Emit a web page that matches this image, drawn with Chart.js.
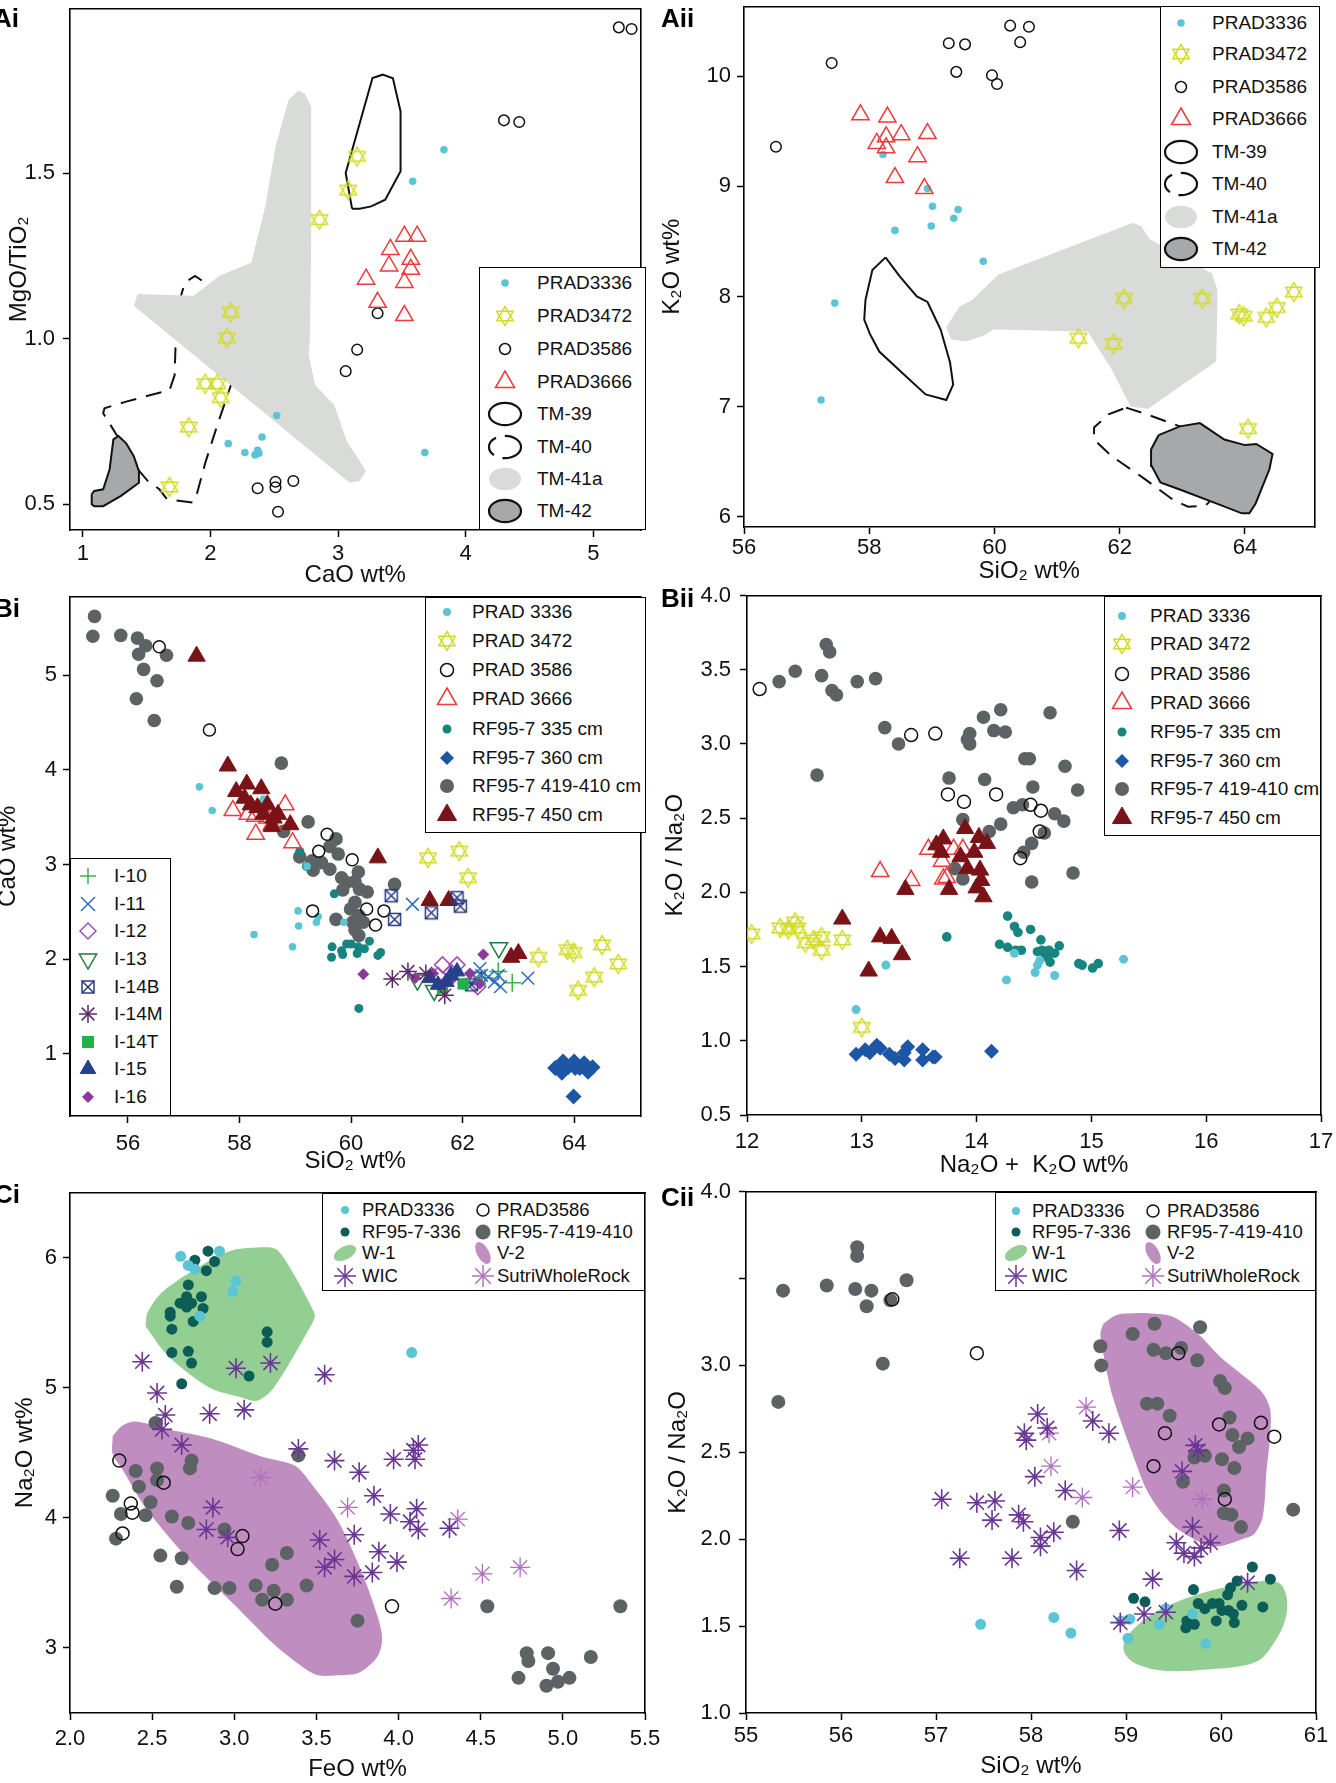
<!DOCTYPE html>
<html><head><meta charset="utf-8">
<script src="https://cdn.jsdelivr.net/npm/chart.js@4/dist/chart.umd.min.js"></script>
<style>
html,body{margin:0;padding:0;background:#fff;}
body{width:1336px;height:1783px;overflow:hidden;position:relative;font-family:'Liberation Sans',Arial,Helvetica,sans-serif;}
canvas{position:absolute;}
.plabel{position:absolute;font-weight:bold;font-size:26px;line-height:26px;color:#000;}
.lgbox{position:absolute;border:1.6px solid #000;box-sizing:border-box;background:#fff;}
.lgt{position:absolute;white-space:nowrap;color:#111;}
.lgs{position:absolute;width:44px;height:40px;}
</style></head><body>
<script>
// ===================== DATA =====================
// ---- Panel Ai : CaO wt% vs MgO/TiO2 ----
const aiXTicks=[1,2,3,4,5];
const aiXLabels=['1','2','3','4','5'];
const aiYTicks=[0.5,1.0,1.5];
const aiYLabels=['0.5','1.0','1.5'];
const ai_PRAD3336=[[3.83,1.571],[3.585,1.476],[2.52,0.768],[2.405,0.703],[2.14,0.683],[2.27,0.656],[2.37,0.663],[2.35,0.649],[2.38,0.654],[3.68,0.656]];
const ai_PRAD3472=[[3.15,1.551],[3.08,1.449],[2.855,1.36],[2.16,1.08],[2.13,1.003],[1.96,0.864],[2.055,0.864],[2.08,0.822],[1.83,0.733],[1.68,0.552]];
const ai_PRAD3586=[[5.20,1.941],[5.30,1.936],[4.30,1.66],[4.42,1.655],[3.31,1.077],[3.15,0.967],[3.06,0.902],[2.37,0.548],[2.51,0.568],[2.51,0.551],[2.65,0.57],[2.53,0.477]];
const ai_PRAD3666=[[3.52,1.31],[3.62,1.31],[3.41,1.27],[3.57,1.24],[3.40,1.22],[3.57,1.21],[3.22,1.18],[3.52,1.17],[3.31,1.11],[3.52,1.07]];
const ai_TM39=[[3.11,1.393],[3.06,1.501],[3.27,1.788],[3.35,1.798],[3.43,1.787],[3.49,1.687],[3.49,1.506],[3.37,1.42],[3.26,1.40],[3.17,1.393],[3.11,1.393]];
const ai_TM40=[[1.77,1.13],[1.73,1.02],[1.72,0.89],[1.68,0.845],[1.34,0.81],[1.17,0.79],[1.16,0.775],[1.20,0.75],[1.28,0.70],[1.40,0.62],[1.51,0.57],[1.60,0.545],[1.66,0.515],[1.86,0.505],[1.89,0.525],[1.96,0.625],[2.055,0.74],[2.17,0.87],[2.23,0.95],[2.23,1.0],[2.18,1.06],[2.12,1.12],[2.05,1.145],[1.88,1.19],[1.80,1.17],[1.77,1.13]];
const ai_TM41a=[[2.61,1.72],[2.69,1.75],[2.74,1.74],[2.79,1.70],[2.79,1.30],[2.78,1.00],[2.77,0.95],[2.82,0.86],[2.97,0.80],[3.07,0.69],[3.22,0.60],[3.17,0.57],[3.09,0.565],[1.40,1.10],[1.43,1.135],[1.87,1.13],[2.07,1.19],[2.32,1.23],[2.43,1.40],[2.51,1.58],[2.61,1.72]];
const ai_TM42=[[1.07,0.53],[1.09,0.54],[1.16,0.545],[1.21,0.605],[1.24,0.696],[1.28,0.706],[1.34,0.684],[1.40,0.645],[1.44,0.60],[1.44,0.565],[1.30,0.525],[1.16,0.494],[1.09,0.494],[1.07,0.50],[1.07,0.53]];

// ---- Panel Aii : SiO2 wt% vs K2O wt% ----
const aiiXTicks=[56,58,60,62,64];
const aiiXLabels=['56','58','60','62','64'];
const aiiYTicks=[6,7,8,9,10];
const aiiYLabels=['6','7','8','9','10'];
const aii_PRAD3336=[[58.22,9.29],[58.93,8.98],[59.01,8.82],[59.42,8.79],[59.35,8.71],[58.99,8.64],[58.41,8.60],[59.82,8.32],[57.45,7.94],[57.23,7.06]];
const aii_PRAD3472=[[62.07,7.98],[63.32,7.98],[61.34,7.62],[61.90,7.57],[63.91,7.84],[63.98,7.82],[64.34,7.81],[64.51,7.90],[64.78,8.04],[64.05,6.80]];
const aii_PRAD3586=[[57.40,10.12],[56.51,9.36],[59.27,10.30],[59.53,10.29],[59.39,10.04],[60.25,10.46],[60.55,10.45],[60.41,10.31],[59.96,10.01],[60.04,9.93]];
const aii_PRAD3666=[[57.86,9.65],[58.29,9.63],[58.27,9.45],[58.51,9.47],[58.12,9.39],[58.93,9.48],[58.27,9.35],[58.77,9.27],[58.41,9.08],[58.88,8.98]];
const aii_TM39=[[58.26,8.355],[58.05,8.24],[57.94,7.97],[57.92,7.79],[58.01,7.66],[58.16,7.50],[58.52,7.31],[58.90,7.11],[59.23,7.06],[59.34,7.20],[59.29,7.40],[59.14,7.70],[58.93,7.95],[58.76,8.0],[58.49,8.18],[58.26,8.355]];
const aii_TM40=[[62.10,6.99],[62.38,6.94],[62.96,6.82],[63.47,6.73],[64.02,6.61],[63.95,6.43],[63.61,6.24],[63.37,6.10],[63.09,6.09],[62.86,6.15],[62.38,6.35],[61.87,6.55],[61.59,6.70],[61.59,6.81],[61.82,6.93],[62.10,6.99]];
const aii_TM41a=[[62.21,8.67],[62.34,8.64],[62.48,8.52],[63.47,8.21],[63.56,8.06],[63.56,7.98],[63.54,7.41],[62.45,6.98],[62.17,7.0],[61.87,7.34],[61.49,7.68],[59.98,7.70],[59.85,7.65],[59.55,7.59],[59.31,7.61],[59.23,7.72],[59.44,7.91],[59.65,7.97],[60.06,8.20],[62.21,8.67]];
const aii_TM42=[[62.62,6.74],[62.96,6.82],[63.28,6.85],[63.67,6.70],[64.0,6.65],[64.18,6.66],[64.44,6.57],[64.39,6.43],[64.17,6.12],[64.07,6.03],[63.95,6.03],[63.54,6.12],[62.99,6.24],[62.65,6.31],[62.51,6.46],[62.50,6.61],[62.62,6.74]];

// ---- Panel Bi : SiO2 wt% vs CaO wt% ----
const biXTicks=[56,58,60,62,64];
const biXLabels=['56','58','60','62','64'];
const biYTicks=[1,2,3,4,5];
const biYLabels=['1','2','3','4','5'];
const bi_PRAD3336=[[57.28,3.82],[57.51,3.57],[58.43,3.69],[59.05,2.51],[59.06,2.35],[59.38,2.39],[59.41,2.45],[58.26,2.26],[58.95,2.13],[59.87,2.39],[59.21,2.98]];
const bi_PRAD3472=[[61.38,3.07],[61.94,3.14],[62.10,2.86],[63.36,2.02],[63.88,2.10],[63.99,2.07],[64.50,2.15],[64.79,1.95],[64.36,1.81],[64.07,1.67]];
const bi_PRAD3586=[[56.56,5.30],[57.46,4.42],[59.57,3.32],[59.42,3.14],[60.02,3.05],[59.31,2.51],[60.28,2.53],[60.59,2.51],[60.44,2.36]];
const bi_PRAD3666=[[57.88,3.57],[58.15,3.53],[58.28,3.51],[58.82,3.63],[58.29,3.32],[58.95,3.23],[58.58,3.42],[58.50,3.49]];
const bi_RF335=[[59.70,2.69],[59.66,2.13],[59.83,2.09],[59.65,2.02],[59.85,2.05],[60.0,2.16],[60.13,2.13],[60.11,2.06],[60.24,2.11],[60.33,2.19],[60.48,2.04],[60.53,2.07],[60.14,1.48],[59.92,2.16],[59.08,3.14],[59.20,2.98]];
const bi_RF360=[[63.66,0.85],[63.80,0.92],[63.78,0.80],[64.0,0.92],[64.02,0.85],[64.18,0.90],[64.25,0.81],[64.10,0.85],[63.99,0.55],[64.33,0.86],[63.89,0.86]];
const bi_RF419=[[55.40,5.62],[55.37,5.41],[55.87,5.42],[56.17,5.39],[56.32,5.31],[56.19,5.22],[56.69,5.21],[56.28,5.06],[56.52,4.94],[56.15,4.75],[56.47,4.52],[58.75,4.07],[59.23,3.45],[58.43,3.63],[58.79,3.35],[59.73,3.27],[59.62,3.19],[59.77,3.11],[59.08,3.08],[59.30,3.04],[59.47,3.02],[59.32,2.94],[59.62,2.95],[60.13,2.92],[59.83,2.86],[60.07,2.82],[60.78,2.79],[59.92,2.81],[60.15,2.74],[60.29,2.71],[59.85,2.73],[60.07,2.60],[59.99,2.53],[60.14,2.46],[60.03,2.39],[60.22,2.39],[60.07,2.31],[60.14,2.25],[59.73,2.42]];
const bi_RF450=[[57.23,5.20],[57.79,4.04],[57.94,3.77],[58.13,3.85],[58.39,3.80],[58.09,3.70],[58.20,3.63],[58.32,3.60],[58.50,3.63],[58.43,3.53],[58.61,3.49],[58.69,3.53],[58.58,3.40],[58.91,3.42],[60.48,3.07],[61.41,2.62],[61.75,2.62],[62.87,2.02],[63.0,2.06]];
const bi_I10=[[62.89,1.75],[62.64,1.87],[62.40,1.80]];
const bi_I11=[[61.10,2.58],[63.17,1.80],[62.31,1.90],[62.57,1.76],[62.64,1.83],[62.68,1.71],[62.46,1.81],[62.34,1.83]];
const bi_I12=[[61.64,1.94],[61.90,1.94],[61.56,1.83],[62.27,1.71],[61.80,1.86]];
const bi_I13=[[62.65,2.12],[61.19,1.78],[61.49,1.67]];
const bi_I14B=[[60.72,2.67],[60.78,2.42],[61.44,2.49],[61.90,2.65],[61.96,2.56],[62.16,1.73],[62.24,1.80]];
const bi_I14M=[[61.02,1.87],[60.74,1.79],[61.68,1.62],[61.34,1.85]];
const bi_I14T=[[62.01,1.74],[61.64,1.69]];
const bi_I15=[[61.41,1.80],[61.71,1.76],[61.90,1.87],[61.56,1.73],[61.79,1.83]];
const bi_I16=[[60.22,1.84],[61.15,1.80],[61.47,1.85],[61.83,1.80],[62.13,1.85],[62.37,2.05],[61.60,1.73],[62.01,1.74],[62.31,1.74]];

// ---- Panel Bii : Na2O+K2O wt% vs K2O/Na2O ----
const biiXTicks=[12,13,14,15,16,17];
const biiXLabels=['12','13','14','15','16','17'];
const biiYTicks=[0.5,1.0,1.5,2.0,2.5,3.0,3.5,4.0];
const biiYLabels=['0.5','1.0','1.5','2.0','2.5','3.0','3.5','4.0'];
const bii_PRAD3336=[[13.21,1.51],[12.95,1.21],[14.26,1.41],[14.33,1.59],[14.51,1.46],[14.53,1.51],[14.68,1.44],[15.28,1.55],[14.55,1.54]];
const bii_PRAD3472=[[12.04,1.72],[12.29,1.76],[12.36,1.75],[12.42,1.80],[12.44,1.76],[12.51,1.66],[12.58,1.68],[12.65,1.70],[12.65,1.61],[12.83,1.68],[13.0,1.09]];
const bii_PRAD3586=[[12.11,3.37],[13.43,3.06],[13.64,3.07],[13.75,2.66],[13.89,2.61],[14.17,2.66],[14.47,2.59],[14.56,2.55],[14.55,2.41],[14.38,2.23]];
const bii_PRAD3666=[[13.16,2.14],[13.58,2.29],[13.70,2.21],[13.80,2.29],[13.43,2.08],[13.71,2.09],[13.88,2.29],[13.74,2.10]];
const bii_RF335=[[13.74,1.70],[14.27,1.84],[14.33,1.77],[14.36,1.73],[14.47,1.75],[14.20,1.65],[14.27,1.63],[14.34,1.61],[14.39,1.61],[14.56,1.68],[14.53,1.60],[14.59,1.59],[14.62,1.56],[14.64,1.53],[14.68,1.59],[14.72,1.64],[14.89,1.52],[14.92,1.51],[15.01,1.49],[15.06,1.52],[14.57,1.61],[14.63,1.61]];
const bii_RF360=[[12.95,0.91],[13.03,0.94],[13.07,0.92],[13.13,0.97],[13.16,0.95],[13.24,0.91],[13.29,0.88],[13.37,0.87],[13.40,0.96],[13.37,0.92],[13.53,0.94],[13.53,0.87],[13.62,0.89],[13.64,0.89],[14.13,0.93]];
const bii_RF419=[[12.69,3.67],[12.72,3.62],[12.28,3.42],[12.42,3.49],[12.65,3.46],[12.74,3.36],[12.78,3.33],[12.96,3.42],[13.12,3.44],[13.20,3.11],[13.32,3.00],[12.61,2.79],[14.06,3.18],[14.21,3.23],[14.15,3.09],[14.25,3.08],[13.94,3.07],[13.94,3.00],[13.92,3.03],[14.64,3.21],[14.42,2.90],[14.46,2.90],[14.77,2.85],[13.76,2.77],[14.07,2.76],[14.49,2.71],[14.88,2.69],[14.32,2.57],[14.40,2.59],[13.88,2.49],[14.11,2.41],[14.21,2.46],[14.68,2.53],[14.76,2.48],[14.59,2.40],[14.48,2.33],[14.41,2.27],[13.81,2.16],[14.84,2.13],[14.48,2.07],[13.88,2.09]];
const bii_RF450=[[13.90,2.43],[13.71,2.36],[13.65,2.32],[14.02,2.37],[14.09,2.33],[13.69,2.27],[13.86,2.24],[13.98,2.27],[13.92,2.16],[14.03,2.15],[14.04,2.08],[13.38,2.02],[13.76,2.02],[14.0,2.03],[14.06,1.97],[12.83,1.82],[13.16,1.70],[13.26,1.69],[13.35,1.58],[13.06,1.47]];

// ---- Panel Ci : FeO wt% vs Na2O wt% ----
const ciXTicks=[2.0,2.5,3.0,3.5,4.0,4.5,5.0,5.5];
const ciXLabels=['2.0','2.5','3.0','3.5','4.0','4.5','5.0','5.5'];
const ciYTicks=[3,4,5,6];
const ciYLabels=['3','4','5','6'];
const ci_PRAD3336=[[2.674,6.01],[2.72,5.94],[2.76,5.91],[2.91,6.05],[3.01,5.82],[2.99,5.74],[2.79,5.55],[4.08,5.27]];
const ci_PRAD3586=[[2.30,4.44],[2.57,4.27],[2.37,4.11],[2.38,4.04],[2.32,3.88],[3.05,3.86],[3.02,3.76],[3.25,3.34],[3.96,3.32]];
const ci_RF336=[[2.84,6.05],[2.76,5.98],[2.88,5.97],[2.83,5.90],[2.72,5.79],[2.71,5.70],[2.67,5.65],[2.80,5.70],[2.81,5.61],[2.71,5.62],[2.74,5.65],[2.61,5.58],[2.61,5.55],[2.62,5.45],[2.75,5.51],[3.20,5.43],[3.20,5.35],[2.62,5.27],[2.72,5.28],[2.74,5.19],[3.09,5.09],[2.68,5.03]];
const ci_RF419=[[2.52,4.73],[2.74,4.44],[2.73,4.38],[2.40,4.36],[2.53,4.38],[3.39,4.48],[2.26,4.17],[2.42,4.24],[2.53,4.29],[2.49,4.12],[2.46,4.02],[2.31,4.03],[2.62,4.01],[2.72,3.96],[2.28,3.84],[2.55,3.71],[2.68,3.69],[2.65,3.47],[2.88,3.46],[2.97,3.46],[2.94,3.91],[3.32,3.73],[3.23,3.64],[3.13,3.48],[3.24,3.44],[3.17,3.37],[3.32,3.37],[3.44,3.48],[3.75,3.21],[4.54,3.32],[5.35,3.32],[4.78,2.96],[4.79,2.90],[4.91,2.96],[4.94,2.84],[4.73,2.77],[4.90,2.71],[4.97,2.74],[5.04,2.77],[5.17,2.93]];
const ci_WIC=[[2.44,5.20],[2.53,4.96],[2.58,4.79],[2.56,4.68],[2.85,4.80],[3.06,4.83],[3.01,5.15],[3.22,5.19],[3.55,5.10],[2.68,4.56],[3.39,4.53],[3.61,4.44],[3.76,4.35],[3.97,4.45],[4.10,4.45],[4.12,4.56],[4.09,4.52],[3.85,4.17],[2.87,4.08],[3.95,4.03],[4.11,4.07],[4.07,3.97],[4.12,3.91],[4.31,3.92],[2.83,3.91],[2.96,3.85],[3.73,3.87],[3.52,3.83],[3.88,3.74],[3.99,3.66],[3.61,3.68],[3.55,3.62],[3.73,3.55],[3.84,3.58]];
const ci_Sutri=[[3.16,4.31],[3.69,4.08],[4.36,3.99],[4.51,3.57],[4.74,3.62],[4.32,3.38]];
const ci_W1=[[2.46,5.47],[2.47,5.57],[2.55,5.72],[2.71,5.87],[2.97,6.05],[3.19,6.08],[3.26,6.06],[3.35,5.90],[3.47,5.62],[3.49,5.55],[3.45,5.44],[3.24,5.0],[3.14,4.90],[3.03,4.93],[2.85,5.0],[2.60,5.24],[2.46,5.47]];
const ci_V2=[[2.26,4.63],[2.32,4.71],[2.40,4.74],[2.60,4.68],[2.86,4.61],[3.17,4.47],[3.37,4.40],[3.47,4.26],[3.63,3.98],[3.78,3.57],[3.88,3.21],[3.90,3.06],[3.87,2.93],[3.76,2.81],[3.63,2.79],[3.51,2.79],[3.42,2.85],[3.24,3.03],[3.01,3.32],[2.73,3.67],[2.47,4.06],[2.32,4.37],[2.26,4.49],[2.26,4.63]];

// ---- Panel Cii : SiO2 wt% vs K2O/Na2O ----
const ciiXTicks=[55,56,57,58,59,60,61];
const ciiXLabels=['55','56','57','58','59','60','61'];
const ciiYTicks=[1.0,1.5,2.0,2.5,3.0,3.5,4.0];
const ciiYLabels=['1.0','1.5','2.0','2.5','3.0','','4.0'];
const cii_PRAD3336=[[57.47,1.51],[58.24,1.55],[58.42,1.46],[59.02,1.43],[59.04,1.54],[59.35,1.51],[59.42,1.60],[59.70,1.57],[59.84,1.40],[58.95,1.53]];
const cii_PRAD3586=[[56.54,3.38],[57.43,3.07],[59.55,3.07],[59.41,2.61],[59.98,2.66],[60.42,2.67],[60.56,2.59],[59.29,2.42],[60.04,2.23]];
const cii_RF336=[[59.08,1.66],[59.20,1.64],[59.64,1.53],[59.63,1.49],[59.72,1.51],[59.71,1.71],[59.76,1.63],[59.83,1.60],[59.98,1.63],[59.95,1.53],[60.07,1.68],[60.10,1.72],[60.17,1.76],[60.08,1.59],[60.14,1.52],[60.22,1.62],[60.33,1.84],[60.44,1.61],[60.52,1.77],[60.01,1.59],[60.13,1.57],[59.91,1.63]];
const cii_RF419=[[56.17,3.68],[56.17,3.63],[55.39,3.43],[55.85,3.46],[56.15,3.44],[56.32,3.43],[56.27,3.34],[56.52,3.375],[56.69,3.49],[56.44,3.01],[55.34,2.79],[58.73,3.11],[58.74,3.0],[59.07,3.18],[59.30,3.24],[59.78,3.22],[59.29,3.09],[59.42,3.07],[59.58,3.10],[59.75,3.03],[59.99,2.91],[60.04,2.87],[59.22,2.78],[59.33,2.78],[59.46,2.71],[60.09,2.70],[60.12,2.60],[60.28,2.58],[60.19,2.53],[60.01,2.46],[60.14,2.41],[59.83,2.48],[59.72,2.47],[59.60,2.33],[60.03,2.28],[60.03,2.15],[60.11,2.14],[60.21,2.07],[60.76,2.17],[58.44,2.10]];
const cii_WIC=[[58.07,2.72],[57.93,2.61],[57.95,2.57],[58.17,2.64],[58.65,2.68],[58.82,2.61],[59.73,2.54],[59.76,2.51],[59.59,2.39],[58.04,2.36],[58.36,2.28],[57.06,2.23],[57.43,2.21],[57.62,2.22],[57.59,2.11],[57.87,2.14],[57.92,2.10],[58.10,2.01],[58.24,2.04],[58.10,1.96],[57.25,1.89],[57.80,1.89],[58.48,1.82],[58.93,2.05],[59.53,1.98],[59.61,1.92],[59.72,1.90],[59.79,1.95],[59.89,1.98],[59.70,2.07],[59.28,1.77],[60.28,1.75],[59.19,1.57],[59.42,1.58],[58.94,1.52]];
const cii_Sutri=[[58.58,2.76],[58.21,2.42],[58.19,2.61],[58.54,2.24],[59.07,2.30],[59.80,2.23]];
const cii_V2=[[58.76,3.24],[58.90,3.29],[59.08,3.30],[59.24,3.30],[59.49,3.28],[59.76,3.18],[59.99,3.05],[60.26,2.93],[60.44,2.84],[60.52,2.74],[60.51,2.55],[60.48,2.40],[60.44,2.13],[60.35,2.03],[60.22,2.0],[59.99,1.96],[59.85,1.965],[59.54,2.06],[59.35,2.17],[59.22,2.28],[59.13,2.40],[58.86,2.82],[58.76,3.07],[58.73,3.18],[58.76,3.24]];
const cii_W1=[[58.97,1.38],[59.01,1.44],[59.22,1.55],[59.54,1.64],[59.94,1.71],[60.17,1.735],[60.44,1.76],[60.62,1.745],[60.69,1.67],[60.69,1.57],[60.62,1.46],[60.44,1.32],[60.26,1.275],[59.85,1.25],[59.49,1.24],[59.26,1.255],[59.08,1.29],[58.99,1.34],[58.97,1.38]];

// ===================== STYLE / RENDER =====================
const FONT="'Liberation Sans', Arial, Helvetica, sans-serif";
const COL={cyan:'#5bc5d5',yel:'#d3db2a',red:'#ee3a3a',blk:'#111111',teal:'#17847f',tealD:'#0c5c58',blue:'#1e56a6',gray:'#5d6264',dred:'#7a1317',
  i10:'#3daf49',i11:'#2d6cc0',i12:'#a24fb3',i13:'#1f7a3b',i14b:'#2b3a7e',i14m:'#5b2a6b',i14t:'#22b04b',i15:'#26408e',i16:'#8b3a9b',
  wic:'#6a3694',sutri:'#b070be',w1:'#93ce92',v2:'#c08dc1',tm41:'#d9dbd9',tm42:'#a6a8aa'};

const pts=a=>a.map(p=>({x:p[0],y:p[1]}));
function davidImg(r,color,lw){
  const s=Math.ceil(2*r+lw*2+4);const c=document.createElement('canvas');c.width=s;c.height=s;
  const g=c.getContext('2d');g.strokeStyle=color;g.lineWidth=lw;const cx=s/2,cy=s/2;
  for(const rot of [0,Math.PI]){g.beginPath();for(let k=0;k<3;k++){const a=rot+k*2*Math.PI/3;const x=cx+Math.sin(a)*r,y=cy-Math.cos(a)*r;k?g.lineTo(x,y):g.moveTo(x,y);}g.closePath();g.stroke();}
  return c;
}
function boxXImg(h,color,lw){
  const s=Math.ceil(2*h+lw*2+2);const c=document.createElement('canvas');c.width=s;c.height=s;
  const g=c.getContext('2d');g.strokeStyle=color;g.lineWidth=lw;const o=s/2;
  g.strokeRect(o-h,o-h,2*h,2*h);g.beginPath();g.moveTo(o-h,o-h);g.lineTo(o+h,o+h);g.moveTo(o+h,o-h);g.lineTo(o-h,o+h);g.stroke();
  return c;
}
const sc=(d,o)=>Object.assign({data:pts(d),showLine:false},o);
const dotDS=(d,c,r,order)=>sc(d,{pointStyle:'circle',pointRadius:r,pointBackgroundColor:c,pointBorderColor:c,pointBorderWidth:0,order});
const ringDS=(d,c,r,order)=>sc(d,{pointStyle:'circle',pointRadius:r,pointBackgroundColor:'rgba(0,0,0,0)',pointBorderColor:c,pointBorderWidth:1.5,order});
const shpDS=(d,style,fill,stroke,r,bw,order,rot)=>sc(d,{pointStyle:style,pointRadius:r,pointBackgroundColor:fill,pointBorderColor:stroke,pointBorderWidth:bw,pointRotation:rot||0,order});
const imgDS=(d,img,order)=>sc(d,{pointStyle:img,pointRadius:10,order});
const regDS=(d,o)=>({data:pts(d),showLine:true,pointRadius:0,pointHoverRadius:0,fill:o.fill?'shape':false,
  backgroundColor:o.fill||'rgba(0,0,0,0)',borderColor:o.stroke||'rgba(0,0,0,0)',borderWidth:o.bw||0,borderDash:o.dash||[],tension:o.tension||0,order:20});

const TOP_FIX=6;
function makePanel(P){
  const padT=P.padT||6,padR=P.padR||6;
  const left=P.frame.l-P.yw,top=P.frame.t-padT-TOP_FIX;
  const W=P.frame.r-left+padR,H=P.frame.b-top+P.xh;
  const c=document.createElement('canvas');c.width=W;c.height=H;
  Object.assign(c.style,{left:left+'px',top:top+'px',width:W+'px',height:H+'px'});
  document.body.appendChild(c);
  const fix=vals=>s=>{s.ticks=vals.map(v=>({value:v}));};
  const zp=s=>{s.paddingLeft=0;s.paddingRight=0;s.paddingTop=0;s.paddingBottom=0;};
  const gridCfg={drawOnChartArea:false,drawTicks:true,tickLength:7,tickColor:'#000',tickWidth:1.5};
  const brd={display:true,color:'#000',width:1.6};
  new Chart(c,{type:'scatter',data:{datasets:P.datasets},
    options:{responsive:false,animation:false,devicePixelRatio:1,events:[],
      layout:{padding:{top:padT,right:padR,left:0,bottom:0}},
      plugins:{legend:{display:false},tooltip:{enabled:false}},
      scales:{
        x:{type:'linear',position:'bottom',min:P.xmin,max:P.xmax,afterBuildTicks:fix(P.xticks),
          ticks:{font:{family:FONT,size:22},color:'#111',padding:P.xtp,maxRotation:0,autoSkip:false,callback:(v,i)=>P.xlabels[i]},
          grid:gridCfg,border:brd,
          title:{display:true,text:P.xtitle,font:{family:FONT,size:24},color:'#111',padding:{top:0,bottom:2}},
          afterFit:s=>{s.height=P.xh;zp(s);}},
        y:{type:'linear',position:'left',min:P.ymin,max:P.ymax,afterBuildTicks:fix(P.yticks),
          ticks:{font:{family:FONT,size:22},color:'#111',padding:P.ytp,autoSkip:false,callback:(v,i)=>P.ylabels[i]},
          grid:gridCfg,border:brd,
          title:{display:true,text:P.ytitle,font:{family:FONT,size:24},color:'#111',padding:{top:P.ytitlePad,bottom:0}},
          afterFit:s=>{s.width=P.yw;zp(s);}},
        x2:{type:'linear',position:'top',min:P.xmin,max:P.xmax,ticks:{display:false},grid:{display:false},border:brd,afterFit:s=>{s.height=0;zp(s);}},
        y2:{type:'linear',position:'right',min:P.ymin,max:P.ymax,ticks:{display:false},grid:{display:false},border:brd,afterFit:s=>{s.width=0;zp(s);}}
      }}});
}

// ---------- legend helpers (HTML) ----------
function svgSym(t,c,r){
  const cx=22,cy=20;let s='';
  const tri=(rr,rot)=>{const p=[];for(let k=0;k<3;k++){const a=rot+k*2*Math.PI/3;p.push((cx+Math.sin(a)*rr).toFixed(2)+','+(cy-Math.cos(a)*rr).toFixed(2));}return p.join(' ');};
  const ln=(x1,y1,x2,y2,w)=>`<line x1="${x1}" y1="${y1}" x2="${x2}" y2="${y2}" stroke="${c}" stroke-width="${w||1.5}"/>`;
  const d=r*Math.SQRT1_2;
  switch(t){
    case 'dot':s=`<circle cx="${cx}" cy="${cy}" r="${r}" fill="${c}"/>`;break;
    case 'ocircle':s=`<circle cx="${cx}" cy="${cy}" r="${r}" fill="none" stroke="${c}" stroke-width="1.5"/>`;break;
    case 'otri':s=`<polygon points="${tri(r,0)}" fill="none" stroke="${c}" stroke-width="1.5"/>`;break;
    case 'ftri':s=`<polygon points="${tri(r,0)}" fill="${c}" stroke="${c}" stroke-width="1"/>`;break;
    case 'itri':s=`<polygon points="${tri(r,Math.PI)}" fill="none" stroke="${c}" stroke-width="1.5"/>`;break;
    case 'david':s=`<polygon points="${tri(r,0)}" fill="none" stroke="${c}" stroke-width="1.5"/><polygon points="${tri(r,Math.PI)}" fill="none" stroke="${c}" stroke-width="1.5"/>`;break;
    case 'plus':s=ln(cx-r,cy,cx+r,cy)+ln(cx,cy-r,cx,cy+r);break;
    case 'x':s=ln(cx-d,cy-d,cx+d,cy+d)+ln(cx-d,cy+d,cx+d,cy-d);break;
    case 'star':s=ln(cx-r,cy,cx+r,cy)+ln(cx,cy-r,cx,cy+r)+ln(cx-d,cy-d,cx+d,cy+d)+ln(cx-d,cy+d,cx+d,cy-d);break;
    case 'odiam':s=`<polygon points="${cx-r},${cy} ${cx},${cy-r} ${cx+r},${cy} ${cx},${cy+r}" fill="none" stroke="${c}" stroke-width="1.5"/>`;break;
    case 'fdiam':s=`<polygon points="${cx-r},${cy} ${cx},${cy-r} ${cx+r},${cy} ${cx},${cy+r}" fill="${c}"/>`;break;
    case 'square':s=`<rect x="${cx-r}" y="${cy-r}" width="${2*r}" height="${2*r}" fill="${c}"/>`;break;
    case 'boxx':s=`<rect x="${cx-r}" y="${cy-r}" width="${2*r}" height="${2*r}" fill="none" stroke="${c}" stroke-width="1.5"/>`+ln(cx-r,cy-r,cx+r,cy+r)+ln(cx-r,cy+r,cx+r,cy-r);break;
    case 'ell':s=`<ellipse cx="${cx}" cy="${cy}" rx="${r}" ry="${r*0.7}" fill="none" stroke="${c}" stroke-width="2.2"/>`;break;
    case 'dell':s=`<ellipse cx="${cx}" cy="${cy}" rx="${r}" ry="${r*0.7}" fill="none" stroke="${c}" stroke-width="2.2" stroke-dasharray="30 9 22 9" stroke-dashoffset="6"/>`;break;
    case 'fell':s=`<ellipse cx="${cx}" cy="${cy}" rx="${r}" ry="${r*0.7}" fill="${c}"/>`;break;
    case 'bell':s=`<ellipse cx="${cx}" cy="${cy}" rx="${r}" ry="${r*0.7}" fill="${c}" stroke="#111" stroke-width="2.2"/>`;break;
    case 'leafG':s=`<ellipse cx="${cx}" cy="${cy}" rx="${r}" ry="${r*0.55}" fill="${c}" transform="rotate(-28 ${cx} ${cy})"/>`;break;
    case 'leafV':s=`<ellipse cx="${cx}" cy="${cy}" rx="${r}" ry="${r*0.5}" fill="${c}" transform="rotate(62 ${cx} ${cy})"/>`;break;
  }
  return `<svg width="44" height="40" viewBox="0 0 44 40">${s}</svg>`;
}
function addLegend(box,items,fs){
  const b=document.createElement('div');b.className='lgbox';
  Object.assign(b.style,{left:box.l+'px',top:box.t+'px',width:(box.r-box.l)+'px',height:(box.b-box.t)+'px'});
  document.body.appendChild(b);
  for(const it of items){
    const sv=document.createElement('div');sv.className='lgs';sv.innerHTML=svgSym(it.sym,it.c,it.r);
    sv.style.left=(it.sx-22)+'px';sv.style.top=(it.y-20)+'px';document.body.appendChild(sv);
    const t=document.createElement('div');t.className='lgt';t.textContent=it.label;
    Object.assign(t.style,{left:it.tx+'px',top:(it.y-fs*0.6)+'px',fontSize:fs+'px',lineHeight:(fs*1.2)+'px'});
    document.body.appendChild(t);
  }
}
function rows(labels,syms,sx,tx,ys){return labels.map((l,i)=>Object.assign({label:l,sx,tx,y:ys[i]},syms[i]));}
function panelLabel(txt,x,y){const d=document.createElement('div');d.className='plabel';d.textContent=txt;d.style.left=x+'px';d.style.top=y+'px';document.body.appendChild(d);}

const david10=davidImg(9.5,COL.yel,1.5);
const boxX=boxXImg(6,COL.i14b,1.5);

// ---------- Panel Ai ----------
makePanel({frame:{l:70,t:9,r:646,b:530},yw:70,xh:62,xmin:0.9,xmax:5.37,ymin:0.422,ymax:1.998,
  xticks:aiXTicks,xlabels:aiXLabels,yticks:aiYTicks,ylabels:aiYLabels,xtitle:'CaO wt%',ytitle:'MgO/TiO₂',xtp:4,ytp:8,ytitlePad:4.6,
  datasets:[
    regDS(ai_TM41a,{fill:COL.tm41}),
    regDS(ai_TM42,{fill:COL.tm42,stroke:'#111',bw:2}),
    regDS(ai_TM39,{stroke:'#111',bw:2}),
    regDS(ai_TM40,{stroke:'#111',bw:2,dash:[16,10]}),
    dotDS(ai_PRAD3336,COL.cyan,3.8,4),
    imgDS(ai_PRAD3472,david10,3),
    ringDS(ai_PRAD3586,COL.blk,5.3,2),
    shpDS(ai_PRAD3666,'triangle','rgba(0,0,0,0)',COL.red,10,1.5,1)
  ]});

// ---------- Panel Aii ----------
makePanel({frame:{l:744,t:7,r:1320,b:527},yw:94,xh:61,xmin:56,xmax:65.11,ymin:5.906,ymax:10.634,
  xticks:aiiXTicks,xlabels:aiiXLabels,yticks:aiiYTicks,ylabels:aiiYLabels,xtitle:'SiO₂ wt%',ytitle:'K₂O wt%',xtp:1,ytp:6,ytitlePad:7.6,
  datasets:[
    regDS(aii_TM41a,{fill:COL.tm41}),
    regDS(aii_TM42,{fill:COL.tm42,stroke:'#111',bw:2}),
    regDS(aii_TM39,{stroke:'#111',bw:2}),
    regDS(aii_TM40,{stroke:'#111',bw:2,dash:[16,10]}),
    dotDS(aii_PRAD3336,COL.cyan,3.8,4),
    imgDS(aii_PRAD3472,david10,3),
    ringDS(aii_PRAD3586,COL.blk,5.3,2),
    shpDS(aii_PRAD3666,'triangle','rgba(0,0,0,0)',COL.red,10,1.5,1)
  ]});

// ---------- Panel Bi ----------
makePanel({frame:{l:70,t:597,r:646,b:1116},yw:78,xh:62,xmin:54.96,xmax:65.19,ymin:0.344,ymax:5.83,
  xticks:biXTicks,xlabels:biXLabels,yticks:biYTicks,ylabels:biYLabels,xtitle:'SiO₂ wt%',ytitle:'CaO wt%',xtp:8,ytp:6,ytitlePad:1.6,
  datasets:[
    dotDS(bi_RF419,COL.gray,6.8,9),
    dotDS(bi_RF335,COL.teal,4.5,8),
    dotDS(bi_PRAD3336,COL.cyan,3.8,7),
    shpDS(bi_PRAD3666,'triangle','rgba(0,0,0,0)',COL.red,10,1.5,6),
    shpDS(bi_RF450,'triangle',COL.dred,COL.dred,10,1,5),
    ringDS(bi_PRAD3586,COL.blk,6,4),
    imgDS(bi_PRAD3472,david10,4),
    shpDS(bi_RF360,'rectRot',COL.blue,COL.blue,8,0,4),
    sc(bi_I14B,{pointStyle:boxX,order:3}),
    shpDS(bi_I13,'triangle','rgba(0,0,0,0)',COL.i13,10,1.5,3,180),
    shpDS(bi_I12,'rectRot','rgba(0,0,0,0)',COL.i12,8,1.5,3),
    shpDS(bi_I15,'triangle',COL.i15,COL.i15,9,1,2),
    shpDS(bi_I14T,'rect',COL.i14t,COL.i14t,8,0,2),
    shpDS(bi_I16,'rectRot',COL.i16,COL.i16,6,0,2),
    shpDS(bi_I14M,'star',COL.i14m,COL.i14m,9,1.5,1),
    shpDS(bi_I11,'crossRot',COL.i11,COL.i11,9,1.5,1),
    shpDS(bi_I10,'cross',COL.i10,COL.i10,9,1.5,1)
  ]});

// ---------- Panel Bii ----------
makePanel({frame:{l:747,t:596,r:1321,b:1115},yw:97,xh:67,padR:14,xmin:12,xmax:17,ymin:0.5,ymax:4.0,
  xticks:biiXTicks,xlabels:biiXLabels,yticks:biiYTicks,ylabels:biiYLabels,xtitle:'Na₂O +  K₂O wt%',ytitle:'K₂O / Na₂O',xtp:7,ytp:9,ytitlePad:10.6,
  datasets:[
    dotDS(bii_RF419,COL.gray,6.8,9),
    dotDS(bii_RF335,COL.teal,4.8,8),
    dotDS(bii_PRAD3336,COL.cyan,4.5,7),
    shpDS(bii_PRAD3666,'triangle','rgba(0,0,0,0)',COL.red,10,1.5,6),
    shpDS(bii_RF450,'triangle',COL.dred,COL.dred,10,1,5),
    ringDS(bii_PRAD3586,COL.blk,6.5,4),
    imgDS(bii_PRAD3472,david10,4),
    shpDS(bii_RF360,'rectRot',COL.blue,COL.blue,7.5,0,4)
  ]});

// ---------- Panel Ci ----------
makePanel({frame:{l:70,t:1193,r:645,b:1713},yw:70,xh:73,padR:22,xmin:2,xmax:5.5,ymin:2.5,ymax:6.5,
  xticks:ciXTicks,xlabels:ciXLabels,yticks:ciYTicks,ylabels:ciYLabels,xtitle:'FeO wt%',ytitle:'Na₂O wt%',xtp:6,ytp:6,ytitlePad:10.6,
  datasets:[
    regDS(ci_W1,{fill:COL.w1,tension:0.3}),
    regDS(ci_V2,{fill:COL.v2,tension:0.3}),
    dotDS(ci_RF419,COL.gray,7,9),
    dotDS(ci_RF336,COL.tealD,5.5,8),
    dotDS(ci_PRAD3336,COL.cyan,5.5,7),
    ringDS(ci_PRAD3586,COL.blk,6.5,3),
    shpDS(ci_Sutri,'star',COL.sutri,COL.sutri,10,1.3,2),
    shpDS(ci_WIC,'star',COL.wic,COL.wic,10,1.6,1)
  ]});

// ---------- Panel Cii ----------
makePanel({frame:{l:746,t:1192,r:1316,b:1713},yw:96,xh:70,padR:18,xmin:55,xmax:61,ymin:1.0,ymax:4.0,
  xticks:ciiXTicks,xlabels:ciiXLabels,yticks:ciiYTicks,ylabels:ciiYLabels,xtitle:'SiO₂ wt%',ytitle:'K₂O / Na₂O',xtp:3,ytp:8,ytitlePad:13.6,
  datasets:[
    regDS(cii_W1,{fill:COL.w1,tension:0.3}),
    regDS(cii_V2,{fill:COL.v2,tension:0.3}),
    dotDS(cii_RF419,COL.gray,7,9),
    dotDS(cii_RF336,COL.tealD,5.5,8),
    dotDS(cii_PRAD3336,COL.cyan,5.5,7),
    ringDS(cii_PRAD3586,COL.blk,6.5,3),
    shpDS(cii_Sutri,'star',COL.sutri,COL.sutri,10,1.3,2),
    shpDS(cii_WIC,'star',COL.wic,COL.wic,10,1.6,1)
  ]});

// ---------- Legends ----------
const lgA_labels=['PRAD3336','PRAD3472','PRAD3586','PRAD3666','TM-39','TM-40','TM-41a','TM-42'];
const lgA_syms=[{sym:'dot',c:COL.cyan,r:3.8},{sym:'david',c:COL.yel,r:9.5},{sym:'ocircle',c:COL.blk,r:5.5},{sym:'otri',c:COL.red,r:11},
  {sym:'ell',c:'#111',r:16},{sym:'dell',c:'#111',r:16},{sym:'fell',c:COL.tm41,r:16},{sym:'bell',c:COL.tm42,r:16}];
addLegend({l:479,t:267,r:646,b:530},rows(lgA_labels,lgA_syms,505,537,[283,316,349,382,414,447,479,511]),19);
addLegend({l:1160,t:6,r:1320,b:268},rows(lgA_labels,lgA_syms,1181,1212,[23,54,87,119,152,184,217,249]),19);

const lgB_labels=['PRAD 3336','PRAD 3472','PRAD 3586','PRAD 3666','RF95-7 335 cm','RF95-7 360 cm','RF95-7 419-410 cm','RF95-7 450 cm'];
const lgB_syms=[{sym:'dot',c:COL.cyan,r:4},{sym:'david',c:COL.yel,r:9.5},{sym:'ocircle',c:COL.blk,r:6.5},{sym:'otri',c:COL.red,r:11},
  {sym:'dot',c:COL.teal,r:4.5},{sym:'fdiam',c:COL.blue,r:7},{sym:'dot',c:COL.gray,r:7},{sym:'ftri',c:COL.dred,r:11}];
addLegend({l:425,t:597,r:646,b:833},rows(lgB_labels,lgB_syms,447,472,[612,641,670,699,729,758,786,815]),19);
addLegend({l:1104,t:596,r:1321,b:836},rows(lgB_labels,lgB_syms,1122,1150,[616,644,674,703,732,761,789,818]),19);

const lgI_labels=['I-10','I-11','I-12','I-13','I-14B','I-14M','I-14T','I-15','I-16'];
const lgI_syms=[{sym:'plus',c:COL.i10,r:8},{sym:'x',c:COL.i11,r:10},{sym:'odiam',c:COL.i12,r:8},{sym:'itri',c:COL.i13,r:10},
  {sym:'boxx',c:COL.i14b,r:6},{sym:'star',c:COL.i14m,r:9},{sym:'square',c:COL.i14t,r:6},{sym:'ftri',c:COL.i15,r:9},{sym:'fdiam',c:COL.i16,r:6}];
addLegend({l:70,t:858,r:171,b:1116},rows(lgI_labels,lgI_syms,88,114,[876,904,931,959,987,1014,1042,1069,1097]),19);

const lgC1_labels=['PRAD3336','RF95-7-336','W-1','WIC'];
const lgC1_syms=[{sym:'dot',c:COL.cyan,r:4},{sym:'dot',c:COL.tealD,r:4.5},{sym:'leafG',c:COL.w1,r:12},{sym:'star',c:COL.wic,r:11}];
const lgC2_labels=['PRAD3586','RF95-7-419-410','V-2','SutriWholeRock'];
const lgC2_syms=[{sym:'ocircle',c:COL.blk,r:6},{sym:'dot',c:COL.gray,r:7.5},{sym:'leafV',c:COL.v2,r:12},{sym:'star',c:COL.sutri,r:11}];
addLegend({l:322,t:1193,r:645,b:1291},rows(lgC1_labels,lgC1_syms,345,362,[1210,1232,1253,1276]).concat(rows(lgC2_labels,lgC2_syms,483,497,[1210,1232,1253,1276])),18.5);
addLegend({l:995,t:1192,r:1316,b:1291},rows(lgC1_labels,lgC1_syms,1016,1032,[1211,1232,1253,1276]).concat(rows(lgC2_labels,lgC2_syms,1153,1167,[1211,1232,1253,1276])),18.5);

// ---------- Panel labels ----------
panelLabel('Ai',-7,5);panelLabel('Aii',661,5);
panelLabel('Bi',-6,595);panelLabel('Bii',661,585);
panelLabel('Ci',-6,1181);panelLabel('Cii',661,1184);
</script></body></html>
